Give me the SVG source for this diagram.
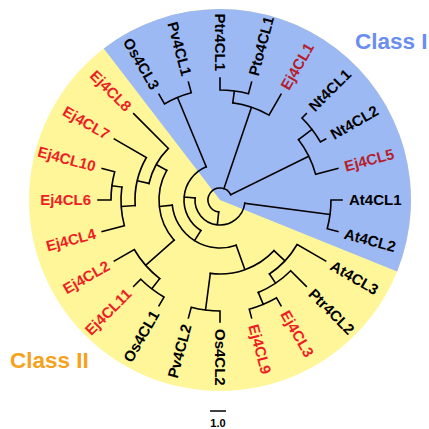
<svg xmlns="http://www.w3.org/2000/svg" width="429" height="429" viewBox="0 0 429 429">
  <style>
    .br { fill: none; stroke: #000; stroke-width: 1.6; stroke-linecap: square; }
    .lb { font-family: "Liberation Sans", Arial, sans-serif; font-weight: bold; font-size: 15px; fill: #000; }
    .e2 { fill: #EE1D24; }
    .e1 { fill: #B4202B; }
    .cls { font-family: "Liberation Sans", Arial, sans-serif; font-weight: bold; font-size: 22.5px; }
  </style>

  <!-- background: class II disc with class I sector on top -->
  <g id="background">
    <circle cx="220" cy="200" r="191" fill="#FFF69A"/>
    <path d="M220 200 L103.73 48.47 A191 191 0 0 1 397.09 271.55 Z" fill="#9CB9F4"/>
  </g>

  <!-- branches (circular cladogram, centre 220,200) -->
  <g id="connectors" class="br">
    <!-- root -->
    <path d="M218.71 211.93 A12 12 0 1 1 230.76 194.69"/>
    <!-- E -->
    <path d="M218.71 211.93 L217.32 224.86 M244.79 203.26 A25 25 0 0 1 195.09 197.91"/>
    <!-- D -->
    <path d="M195.09 197.91 L184.13 196.98 M200.86 230.49 A36 36 0 0 1 206.22 166.74"/>
    <!-- C -->
    <path d="M200.86 230.49 L194.49 240.66 M236.17 245.19 A48 48 0 0 1 172.27 205.1"/>
    <!-- B -->
    <path d="M172.27 205.1 L159.34 206.48 M174.14 240.22 A61 61 0 0 1 166.68 170.37"/>
    <!-- K, L -->
    <path d="M174.14 240.22 L145.57 265.28 M159.73 278.54 A99 99 0 0 1 134.26 249.5 L114.34 261"/>
    <path d="M159.73 278.54 L151.82 288.86 M164 296.99 A112 112 0 0 1 140.8 279.2 L133.73 286.27 M164 296.99 L159 305.66"/>
    <!-- G, H, I, J -->
    <path d="M166.68 170.37 L156.19 164.54 M148.91 183.42 A73 73 0 0 1 168.38 148.38 L133.73 113.73"/>
    <path d="M148.91 183.42 L137.22 180.7 M135.18 205.56 A85 85 0 0 1 146.39 157.5 L114.34 139"/>
    <path d="M135.18 205.56 L121.21 206.47 M124.37 225.62 A99 99 0 0 1 121.85 187.08 M124.37 225.62 L102.16 231.58"/>
    <path d="M121.85 187.08 L111.93 185.77 M111 200 A109 109 0 0 1 114.71 171.79 L102.16 168.42 M111 200 L98 200"/>
    <!-- A, N -->
    <path d="M236.17 245.19 L244.93 269.68 M274.01 250.59 A74 74 0 0 1 210.34 273.37"/>
    <path d="M210.34 273.37 L205.51 310.05 M220 311 A111 111 0 0 1 191.27 307.22 L188.42 317.84 M220 311 L220 322"/>
    <!-- M, O, P -->
    <path d="M274.01 250.59 L284.96 260.84 M297.08 244.5 A89 89 0 0 1 269.45 274 M297.08 244.5 L325.66 261"/>
    <path d="M269.45 274 L275.56 283.15 M290.71 270.71 A100 100 0 0 1 258.27 292.39 M290.71 270.71 L306.27 286.27"/>
    <path d="M258.27 292.39 L263.24 304.4 M276.5 297.86 A113 113 0 0 1 249.25 309.15 L251.58 317.84 M276.5 297.86 L281 305.66"/>
    <!-- Q (At4CL1/At4CL2) -->
    <path d="M244.79 203.26 L330.05 214.49 M331 200 A111 111 0 0 1 327.22 228.73 L337.84 231.58 M331 200 L342 200"/>
    <!-- R (Os4CL3/Pv4CL1) -->
    <path d="M206.22 166.74 L177.52 97.45 M164.5 103.87 A111 111 0 0 1 191.27 92.78 L188.42 82.16 M164.5 103.87 L159 94.34"/>
    <!-- T, S -->
    <path d="M223.86 188.64 L251.5 107.2 M232.79 102.84 A98 98 0 0 1 269 115.13 L281 94.34"/>
    <path d="M232.79 102.84 L234.36 90.94 M220 90 A110 110 0 0 1 248.47 93.75 L251.58 82.16 M220 90 L220 78"/>
    <!-- V, U -->
    <path d="M230.76 194.69 L308.79 156.21 M298.54 139.73 A99 99 0 0 1 315.63 174.38 L337.84 168.42"/>
    <path d="M298.54 139.73 L312.03 129.38 M302.02 117.98 A116 116 0 0 1 320.46 142 L325.66 139 M302.02 117.98 L306.27 113.73"/>
  </g>

  <!-- leaf labels: right half reads outward, left half is turned over -->
  <g id="At4CL1"><text class="lb" x="349" y="200" dy="0.35em" transform="rotate(0 220 200)">At4CL1</text></g>
  <g id="At4CL2"><text class="lb" x="349" y="200" dy="0.35em" transform="rotate(15 220 200)">At4CL2</text></g>
  <g id="At4CL3"><text class="lb" x="349" y="200" dy="0.35em" transform="rotate(30 220 200)">At4CL3</text></g>
  <g id="Ptr4CL2"><text class="lb" x="349" y="200" dy="0.35em" transform="rotate(45 220 200)">Ptr4CL2</text></g>
  <g id="Ej4CL3"><text class="lb e2" x="349" y="200" dy="0.35em" transform="rotate(60 220 200)">Ej4CL3</text></g>
  <g id="Ej4CL9"><text class="lb e2" x="349" y="200" dy="0.35em" transform="rotate(75 220 200)">Ej4CL9</text></g>
  <g id="Os4CL2"><text class="lb" x="349" y="200" dy="0.35em" transform="rotate(90 220 200)">Os4CL2</text></g>
  <g id="Pv4CL2"><text class="lb" x="91" y="200" dy="0.35em" text-anchor="end" transform="rotate(-75 220 200)">Pv4CL2</text></g>
  <g id="Os4CL1"><text class="lb" x="91" y="200" dy="0.35em" text-anchor="end" transform="rotate(-60 220 200)">Os4CL1</text></g>
  <g id="Ej4CL11"><text class="lb e2" x="91" y="200" dy="0.35em" text-anchor="end" transform="rotate(-45 220 200)">Ej4CL11</text></g>
  <g id="Ej4CL2"><text class="lb e2" x="91" y="200" dy="0.35em" text-anchor="end" transform="rotate(-30 220 200)">Ej4CL2</text></g>
  <g id="Ej4CL4"><text class="lb e2" x="91" y="200" dy="0.35em" text-anchor="end" transform="rotate(-15 220 200)">Ej4CL4</text></g>
  <g id="Ej4CL6"><text class="lb e2" x="91" y="200" dy="0.35em" text-anchor="end">Ej4CL6</text></g>
  <g id="Ej4CL10"><text class="lb e2" x="91" y="200" dy="0.35em" text-anchor="end" transform="rotate(15 220 200)">Ej4CL10</text></g>
  <g id="Ej4CL7"><text class="lb e2" x="91" y="200" dy="0.35em" text-anchor="end" transform="rotate(30 220 200)">Ej4CL7</text></g>
  <g id="Ej4CL8"><text class="lb e2" x="91" y="200" dy="0.35em" text-anchor="end" transform="rotate(45 220 200)">Ej4CL8</text></g>
  <g id="Os4CL3"><text class="lb" x="91" y="200" dy="0.35em" text-anchor="end" transform="rotate(60 220 200)">Os4CL3</text></g>
  <g id="Pv4CL1"><text class="lb" x="91" y="200" dy="0.35em" text-anchor="end" transform="rotate(75 220 200)">Pv4CL1</text></g>
  <g id="Ptr4CL1"><text class="lb" x="91" y="200" dy="0.35em" text-anchor="end" transform="rotate(90 220 200)">Ptr4CL1</text></g>
  <g id="Pto4CL1"><text class="lb" x="349" y="200" dy="0.35em" transform="rotate(-75 220 200)">Pto4CL1</text></g>
  <g id="Ej4CL1"><text class="lb e1" x="349" y="200" dy="0.35em" transform="rotate(-60 220 200)">Ej4CL1</text></g>
  <g id="Nt4CL1"><text class="lb" x="349" y="200" dy="0.35em" transform="rotate(-45 220 200)">Nt4CL1</text></g>
  <g id="Nt4CL2"><text class="lb" x="349" y="200" dy="0.35em" transform="rotate(-30 220 200)">Nt4CL2</text></g>
  <g id="Ej4CL5"><text class="lb e1" x="349" y="200" dy="0.35em" transform="rotate(-15 220 200)">Ej4CL5</text></g>

  <!-- class captions -->
  <g id="class-1"><text class="cls" x="355" y="49" fill="#6A8DF0">Class I</text></g>
  <g id="class-2"><text class="cls" x="10" y="368" fill="#F7A21B">Class II</text></g>

  <!-- scale bar -->
  <g id="scale">
    <line x1="210" y1="411" x2="226" y2="411" stroke="#000" stroke-width="1.5"/>
    <text x="218" y="427" text-anchor="middle" font-family="'Liberation Sans', Arial, sans-serif" font-weight="bold" font-size="11">1.0</text>
  </g>
</svg>
